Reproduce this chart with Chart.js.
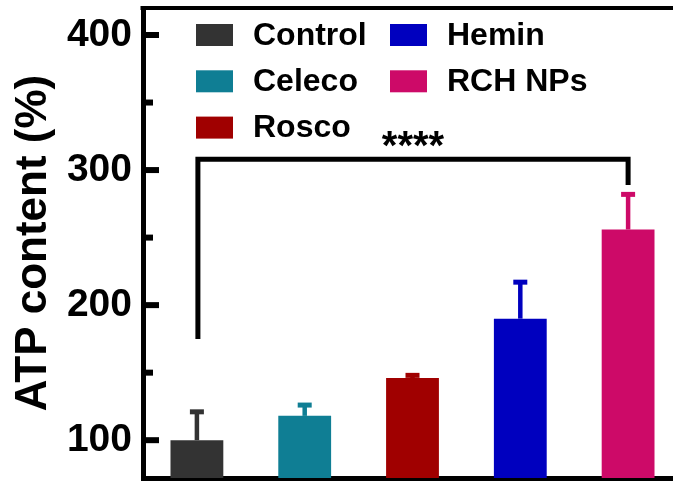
<!DOCTYPE html>
<html>
<head>
<meta charset="utf-8">
<title>ATP content</title>
<script src="https://cdn.jsdelivr.net/npm/chart.js@4.4.0/dist/chart.umd.min.js"></script>
<style>
  html, body { margin: 0; padding: 0; background: #fff; overflow: hidden; }
  #wrap { width: 673px; height: 481px; overflow: hidden; }
</style>
</head>
<body>
<div id="wrap"><canvas id="atpChart" width="690" height="481"></canvas></div>
<script>
// data
const groups = ['Control', 'Celeco', 'Rosco', 'Hemin', 'RCH NPs'];
const atpMeans = [100, 118, 146, 190, 256];
const atpErrors = [21, 8, 2, 27, 26];
const barColors = ['#333333', '#0f7e94', '#a00000', '#0000bf', '#cd0a68'];
const yTicks = [100, 200, 300, 400];
const yMinorTicks = [150, 250, 350];
const yRange = [72, 420];
// significance bracket: Control vs RCH NPs
const sigPair = [0, 4];
const sigLevel = 308;
const sigEnds = [175, 289];
const sigLabel = '****';
const legendColumns = [[0, 1, 2], [3, 4]];

const FONT = '"Liberation Sans", Arial, sans-serif';

function line(ctx, x1, y1, x2, y2) {
  ctx.beginPath();
  ctx.moveTo(x1, y1);
  ctx.lineTo(x2, y2);
  ctx.stroke();
}

const decorations = {
  id: 'decorations',
  afterDatasetsDraw(chart) {
    const { ctx, chartArea: area, scales: { x, y } } = chart;
    const meta = chart.getDatasetMeta(0);
    ctx.save();

    // error bars (upper only)
    meta.data.forEach((bar, i) => {
      const top = y.getPixelForValue(atpMeans[i] + atpErrors[i]);
      ctx.strokeStyle = barColors[i];
      ctx.lineWidth = 4.5;
      line(ctx, bar.x, bar.y, bar.x, top);
      ctx.lineWidth = 5;
      line(ctx, bar.x - 7, top, bar.x + 7, top);
    });

    // top frame line and inward ticks
    ctx.strokeStyle = '#000';
    ctx.lineWidth = 4;
    line(ctx, area.left - 2.5, area.top, chart.width, area.top);
    ctx.lineWidth = 6;
    yTicks.forEach(v => {
      const py = y.getPixelForValue(v);
      line(ctx, area.left, py, area.left + 16, py);
    });
    yMinorTicks.forEach(v => {
      const py = y.getPixelForValue(v);
      line(ctx, area.left, py, area.left + 10, py);
    });

    // significance bracket
    const xa = x.getPixelForValue(sigPair[0]) + 1;
    const xb = x.getPixelForValue(sigPair[1]);
    const yl = y.getPixelForValue(sigLevel);
    ctx.lineWidth = 5;
    ctx.lineJoin = 'miter';
    ctx.beginPath();
    ctx.moveTo(xa, y.getPixelForValue(sigEnds[0]));
    ctx.lineTo(xa, yl);
    ctx.lineTo(xb, yl);
    ctx.lineTo(xb, y.getPixelForValue(sigEnds[1]));
    ctx.stroke();
    ctx.fillStyle = '#000';
    ctx.font = `bold 40px ${FONT}`;
    ctx.textAlign = 'center';
    ctx.textBaseline = 'alphabetic';
    ctx.fillText(sigLabel, (xa + xb) / 2, yl);

    // legend, two columns inside the plot
    ctx.font = `bold 32px ${FONT}`;
    ctx.textAlign = 'left';
    ctx.textBaseline = 'middle';
    legendColumns.forEach((col, c) => col.forEach((idx, r) => {
      const sx = area.left + 53 + c * 194;
      const cy = area.top + 27 + r * 46.3;
      ctx.fillStyle = barColors[idx];
      ctx.fillRect(sx, cy - 11, 37, 22);
      ctx.fillStyle = '#000';
      ctx.fillText(groups[idx], sx + 57, cy + 1);
    }));

    ctx.restore();
  }
};

new Chart(document.getElementById('atpChart'), {
  type: 'bar',
  data: {
    labels: groups,
    datasets: [{
      data: atpMeans,
      backgroundColor: barColors,
      borderWidth: 0,
      barPercentage: 0.49,
      categoryPercentage: 1
    }]
  },
  options: {
    responsive: false,
    animation: false,
    layout: { padding: { top: 8, bottom: 3, left: 0, right: 8 } },
    plugins: {
      legend: { display: false },
      tooltip: { enabled: false }
    },
    scales: {
      x: {
        z: 1,
        grid: { display: false, drawTicks: false },
        ticks: { display: false },
        border: { display: true, width: 5, color: '#000' },
        afterFit(scale) {
          scale.height = 0;
          scale.paddingLeft = 0;
          scale.paddingRight = 0;
        }
      },
      y: {
        z: 1,
        min: yRange[0],
        max: yRange[1],
        afterBuildTicks(scale) {
          scale.ticks = yTicks.map(v => ({ value: v }));
        },
        grid: { display: false, drawTicks: false },
        border: { display: true, width: 5, color: '#000' },
        ticks: {
          color: '#000',
          padding: 11,
          font: { family: FONT, size: 39, weight: 'bold' }
        },
        title: {
          display: true,
          text: 'ATP content (%)',
          color: '#000',
          font: { family: FONT, size: 44, weight: 'bold', lineHeight: 1 },
          padding: { top: 12, bottom: 0 }
        },
        afterFit(scale) {
          scale.width = 143;
          scale.paddingTop = 0;
          scale.paddingBottom = 0;
        }
      }
    }
  },
  plugins: [decorations]
});
</script>
</body>
</html>
